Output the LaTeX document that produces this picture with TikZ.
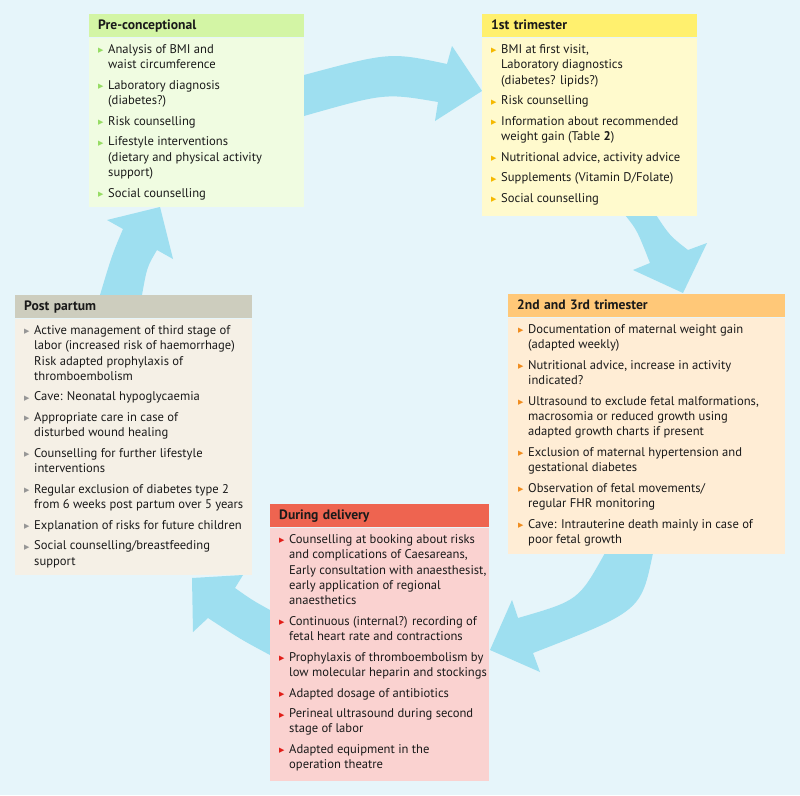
\documentclass[tikz,border=0pt]{standalone}
\usepackage{fontspec}
\setmainfont{PT Sans}
\newfontfamily\symfont{DejaVu Sans}
\definecolor{bg}{HTML}{E6F5FA}
\definecolor{arr}{HTML}{9EDFF0}
\definecolor{txt}{HTML}{1A1A1A}
\definecolor{preH}{HTML}{D3F5A5}\definecolor{preB}{HTML}{F0FCE1}\definecolor{preU}{HTML}{96DC64}
\definecolor{fstH}{HTML}{FFF06E}\definecolor{fstB}{HTML}{FFFACD}\definecolor{fstU}{HTML}{F5B900}
\definecolor{sndH}{HTML}{FFC878}\definecolor{sndB}{HTML}{FFEDD5}\definecolor{sndU}{HTML}{F08C1E}
\definecolor{delH}{HTML}{EE6450}\definecolor{delB}{HTML}{FAD2D0}\definecolor{delU}{HTML}{E11E19}
\definecolor{pstH}{HTML}{CDCDBE}\definecolor{pstB}{HTML}{F5F0E6}\definecolor{pstU}{HTML}{969696}
\newcommand{\nl}{\hfil\break}
\newcommand{\bitem}[1]{\par\noindent\hangindent=10pt\hangafter=1\makebox[10pt][l]{\raisebox{0.6pt}{\textcolor{bulc}{\symfont\fontsize{7}{7}\selectfont ▶}}}#1\par}
\newenvironment{blist}[2]{\colorlet{bulc}{#2}\begin{minipage}[t]{#1}\fontsize{12.6}{15.3}\selectfont\rightskip=0pt plus 1fil\relax\setlength{\parskip}{5.3pt}}{\end{minipage}}
\tikzset{
  hdr/.style={draw=none, anchor=north west, minimum height=23pt, inner xsep=9pt, inner ysep=0pt,
    text height=9.5pt, text depth=2.5pt, align=left, font=\fontsize{13.6}{15}\selectfont\bfseries, text=txt},
  bodybox/.style={draw=none, anchor=north west, inner sep=0pt},
  listnode/.style={anchor=base west, inner sep=0pt, text=txt},
  blockarrow/.style={fill=arr, draw=none}
}
\begin{document}
\begin{tikzpicture}[x=1pt,y=-1pt]
\path[use as bounding box, fill=bg] (0,0) rectangle (800,795);

% block arrows (behind boxes)
\coordinate (a1s) at (290,77);
\fill[blockarrow] (a1s) -- (304,75) .. controls (390,52) .. (447,64) -- (452,46) -- (482,91) -- (435,121) -- (438,102) .. controls (385,93) .. (304,116) -- (290,118) -- cycle;
\coordinate (a2s) at (622,205);
\fill[blockarrow] (a2s) -- (625,215) .. controls (637,230) .. (650,263) -- (633,270) -- (683,293) -- (707,243) -- (688,250) .. controls (670,236) .. (656,215) -- (653,205) -- cycle;
\coordinate (a3s) at (607,545);
\fill[blockarrow] (a3s) -- (605,553) .. controls (578.5,600.5) .. (518,618) -- (512,600) -- (490,650) -- (540,672) -- (533,653) .. controls (641,611) .. (653,553) -- (654,545) -- cycle;
\coordinate (a4s) at (285,620);
\fill[blockarrow] (a4s) -- (270,610) .. controls (252,600) .. (235,588) -- (243,575) -- (192,578) -- (193,632) -- (208,618) .. controls (241,639.5) .. (270,655) -- (285,662) -- cycle;
\coordinate (a5s) at (98,305);
\fill[blockarrow] (a5s) -- (100,295) .. controls (112,255) .. (123,229) -- (107,220) -- (160,207) -- (173,259) -- (157,250) .. controls (147,267) .. (142,295) -- (140,305) -- cycle;

% Pre-conceptional
\node[hdr, fill=preH, text width=197pt] (preHd) at (89,14) {Pre-conceptional};
\node[bodybox, fill=preB, minimum width=215pt, minimum height=169pt] (preBd) at (preHd.south west) {};
\node[listnode] (preL) at ([shift={(9,16)}]preHd.south west) {\begin{blist}{220pt}{preU}
\bitem{Analysis of BMI and\nl waist circumference}
\bitem{Laboratory diagnosis\nl (diabetes?)}
\bitem{Risk counselling}
\bitem{Lifestyle interventions\nl (dietary and physical activity\nl support)}
\bitem{Social counselling}
\end{blist}};

% 1st trimester
\node[hdr, fill=fstH, text width=197pt] (fstHd) at (482,14) {1st trimester};
\node[bodybox, fill=fstB, minimum width=215pt, minimum height=178pt] (fstBd) at (fstHd.south west) {};
\node[listnode] (fstL) at ([shift={(9,16)}]fstHd.south west) {\begin{blist}{220pt}{fstU}
\bitem{BMI at first visit,\nl Laboratory diagnostics\nl (diabetes? lipids?)}
\bitem{Risk counselling}
\bitem{Information about recommended\nl weight gain (Table \textbf{2})}
\bitem{Nutritional advice, activity advice}
\bitem{Supplements (Vitamin D/Folate)}
\bitem{Social counselling}
\end{blist}};

% 2nd and 3rd trimester
\node[hdr, fill=sndH, text width=259pt] (sndHd) at (508,294) {2nd and 3rd trimester};
\node[bodybox, fill=sndB, minimum width=277pt, minimum height=236pt] (sndBd) at (sndHd.south west) {};
\node[listnode] (sndL) at ([shift={(10,16)}]sndHd.south west) {\begin{blist}{280pt}{sndU}
\bitem{Documentation of maternal weight gain\nl (adapted weekly)}
\bitem{Nutritional advice, increase in activity\nl indicated?}
\bitem{Ultrasound to exclude fetal malformations,\nl macrosomia or reduced growth using\nl adapted growth charts if present}
\bitem{Exclusion of maternal hypertension and\nl gestational diabetes}
\bitem{Observation of fetal movements/\nl regular FHR monitoring}
\bitem{Cave: Intrauterine death mainly in case of\nl poor fetal growth}
\end{blist}};

% Post partum
\node[hdr, fill=pstH, text width=219pt] (pstHd) at (15,295) {Post partum};
\node[bodybox, fill=pstB, minimum width=237pt, minimum height=256pt] (pstBd) at (pstHd.south west) {};
\node[listnode] (pstL) at ([shift={(9,16)}]pstHd.south west) {\begin{blist}{245pt}{pstU}
\bitem{Active management of third stage of\nl labor (increased risk of haemorrhage)\nl Risk adapted prophylaxis of\nl thromboembolism}
\bitem{Cave: Neonatal hypoglycaemia}
\bitem{Appropriate care in case of\nl disturbed wound healing}
\bitem{Counselling for further lifestyle\nl interventions}
\bitem{Regular exclusion of diabetes type 2\nl from 6 weeks post partum over 5 years}
\bitem{Explanation of risks for future children}
\bitem{Social counselling/breastfeeding\nl support}
\end{blist}};

% During delivery
\node[hdr, fill=delH, text width=201pt] (delHd) at (270,504) {During delivery};
\node[bodybox, fill=delB, minimum width=219pt, minimum height=253pt] (delBd) at (delHd.south west) {};
\node[listnode] (delL) at ([shift={(9,16)}]delHd.south west) {\begin{blist}{230pt}{delU}
\bitem{Counselling at booking about risks\nl and complications of Caesareans,\nl Early consultation with anaesthesist,\nl early application of regional\nl anaesthetics}
\bitem{Continuous (internal?) recording of\nl fetal heart rate and contractions}
\bitem{Prophylaxis of thromboembolism by\nl low molecular heparin and stockings}
\bitem{Adapted dosage of antibiotics}
\bitem{Perineal ultrasound during second\nl stage of labor}
\bitem{Adapted equipment in the\nl operation theatre}
\end{blist}};
\end{tikzpicture}
\end{document}
